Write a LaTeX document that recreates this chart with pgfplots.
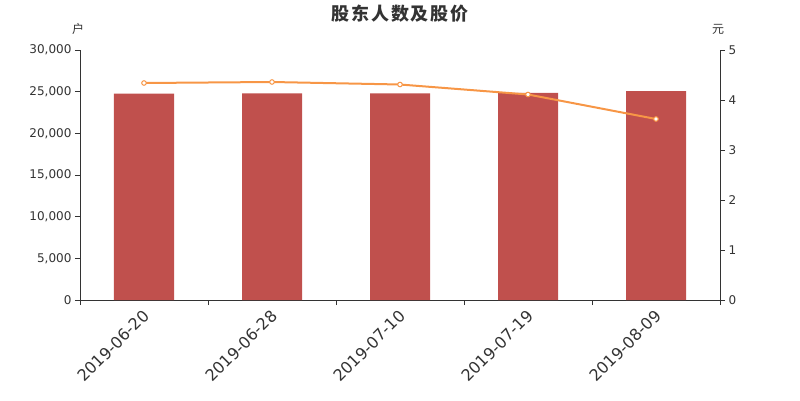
\documentclass[border=0pt]{standalone}
\usepackage{fontspec}
\setmainfont{DejaVu Sans}
\newfontfamily\cjk{Noto Sans CJK SC}
\newfontfamily\cjktitle{Noto Sans CJK SC}[LetterSpace=10]
\usepackage{pgfplots}
\pgfplotsset{compat=1.18}
\definecolor{barred}{HTML}{C0504D}
\definecolor{lineor}{HTML}{F79646}
\definecolor{txt}{HTML}{333333}
\begin{document}
\begin{tikzpicture}[x=1pt,y=1pt]
\useasboundingbox (-80,-100) rectangle (720,300);
\begin{axis}[
  at={(0,0)}, anchor=south west,
  scale only axis, width=640pt, height=250pt,
  xmin=-0.5, xmax=4.5, ymin=0, ymax=30000,
  axis x line*=bottom, axis y line*=left,
  axis line style={draw=txt, line width=0.8pt, -},
  tick align=outside,
  major tick length=5pt, minor tick length=5pt,
  xtick={0,1,2,3,4},
  xticklabels={2019-06-20,2019-06-28,2019-07-10,2019-07-19,2019-08-09},
  minor xtick={-0.5,0.5,1.5,2.5,3.5,4.5},
  xtick style={draw=none},
  minor x tick style={draw=txt, line width=0.8pt},
  ytick={0,5000,10000,15000,20000,25000,30000},
  y tick style={draw=txt, line width=0.8pt},
  scaled y ticks=false,
  /pgf/number format/1000 sep={,},
  /pgf/number format/assume math mode=true,
  yticklabel style={font=\fontsize{12}{12}\selectfont, text=txt},
  xticklabel style={rotate=45, anchor=north east, font=\fontsize{16}{16}\selectfont, text=txt, inner sep=1pt, xshift=-3pt},
  ybar, bar width=60pt,
]
\addplot[fill=barred, draw=none] coordinates {(0,24780) (1,24790) (2,24810) (3,24850) (4,25060)};
\end{axis}
\begin{axis}[
  at={(0,0)}, anchor=south west,
  scale only axis, width=640pt, height=250pt,
  xmin=-0.5, xmax=4.5, ymin=0, ymax=5,
  axis x line=none, axis y line*=right,
  axis line style={draw=txt, line width=0.8pt, -},
  tick align=outside, major tick length=5pt,
  ytick={0,1,2,3,4,5},
  y tick style={draw=txt, line width=0.8pt},
  /pgf/number format/assume math mode=true,
  yticklabel style={font=\fontsize{12}{12}\selectfont, text=txt},
]
\addplot[lineor, line width=2pt, mark=*, mark size=2.3pt, mark options={fill=white, draw=lineor, line width=1pt}]
  coordinates {(0,4.34) (1,4.36) (2,4.31) (3,4.11) (4,3.62)};
\end{axis}
\node[font=\cjktitle\bfseries\fontsize{18}{18}\selectfont, text=txt] at (320,286) {股东人数及股价};
\node[font=\cjk\fontsize{12}{12}\selectfont, text=txt] at (-2,271) {户};
\node[font=\cjk\fontsize{12}{12}\selectfont, text=txt] at (638,271) {元};
\end{tikzpicture}
\end{document}
